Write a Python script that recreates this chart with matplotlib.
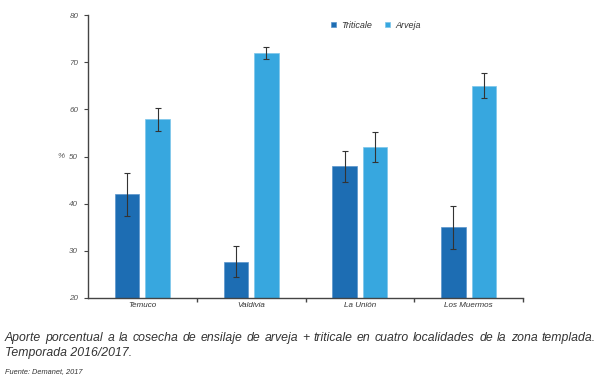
import matplotlib
matplotlib.use("Agg")
import matplotlib.pyplot as plt
import numpy as np

# ── DATA ────────────────────────────────────────────────────────────────────
localidades = ["Temuco", "Valdivia", "La Unión", "Los Muermos"]
triticale = [42.0, 27.7, 47.9, 35.0]
triticale_err = [4.6, 3.3, 3.2, 4.6]
arveja = [57.9, 71.9, 52.0, 65.0]
arveja_err = [2.4, 1.3, 3.1, 2.7]
yticks = [20, 30, 40, 50, 60, 70, 80]

caption_1 = ("Aporte porcentual a la cosecha de ensilaje de arveja + triticale "
             "en cuatro localidades de la zona templada.")
caption_2 = "Temporada 2016/2017."
fuente = "Fuente: Demanet, 2017"

# ── STYLE ───────────────────────────────────────────────────────────────────
plt.rcParams["font.family"] = ["Liberation Sans", "DejaVu Sans"]
C_TRI = "#1d6db3"
C_ARV = "#37a7df"
AX_COL = "#444444"
TXT_COL = "#333333"

fig = plt.figure(figsize=(6, 3.8), dpi=100)
ax = fig.add_axes([0.1467, 0.2158, 0.725, 0.7447])

x = np.arange(len(localidades))
w = 0.225
off = 0.14
err_kw = dict(ecolor="#333333", elinewidth=0.8, capsize=2.5, capthick=0.8)

ax.bar(x - off, np.array(triticale) - 20, w, bottom=20, color=C_TRI,
       edgecolor="#5a95cc", linewidth=0.5, yerr=triticale_err,
       error_kw=err_kw, label="Triticale", zorder=1)
ax.bar(x + off, np.array(arveja) - 20, w, bottom=20, color=C_ARV,
       edgecolor="#7cc6ea", linewidth=0.5, yerr=arveja_err,
       error_kw=err_kw, label="Arveja", zorder=1)

ax.set_xlim(-0.5, len(localidades) - 0.5)
ax.set_ylim(20, 80)
ax.set_yticks(yticks)
ax.set_yticklabels([str(t) for t in yticks], fontsize=5.8, style="italic",
                   color="#555555")
ax.set_xticks(x)
ax.set_xticklabels(localidades, fontsize=5.8, style="italic", color=TXT_COL)
ax.tick_params(axis="x", length=0, pad=3)
ax.set_xticks(np.arange(len(localidades)) + 0.5, minor=True)
ax.tick_params(axis="x", which="minor", length=3, width=1, color=AX_COL,
               direction="out")
ax.tick_params(axis="y", length=3, width=0.8, color=AX_COL, pad=4)
ax.set_ylabel("%", fontsize=5.8, style="italic", color="#555555",
              rotation=0, labelpad=6, va="center")

for s in ["top", "right"]:
    ax.spines[s].set_visible(False)
for s in ["left", "bottom"]:
    ax.spines[s].set_color(AX_COL)
    ax.spines[s].set_linewidth(1.0)
    ax.spines[s].set_zorder(3)

leg = ax.legend(loc="upper left", bbox_to_anchor=(0.545, 0.955),
                bbox_transform=fig.transFigure, ncol=2, frameon=False,
                fontsize=6.5, handlelength=0.6, handleheight=0.6,
                handletextpad=0.6, columnspacing=1.4, borderaxespad=0)
for t in leg.get_texts():
    t.set_style("italic")
    t.set_color(TXT_COL)

# ── CAPTION (first line justified across the width) ─────────────────────────
renderer = fig.canvas.get_renderer()
x0, x1 = 5, 596
words = caption_1.split()
arts = [fig.text(0, 1 - 341 / 380, wd, fontsize=8.8, style="italic",
                 color=TXT_COL, va="baseline", ha="left") for wd in words]
widths = [a.get_window_extent(renderer).width for a in arts]
gap = (x1 - x0 - sum(widths)) / (len(words) - 1)
pos = x0
for a, wd in zip(arts, widths):
    a.set_x(pos / 600)
    pos += wd + gap

fig.text(x0 / 600, 1 - 356 / 380, caption_2, fontsize=8.8, style="italic",
         color=TXT_COL, va="baseline", ha="left")
fig.text(x0 / 600, 1 - 373 / 380, fuente, fontsize=5.3, style="italic",
         color=TXT_COL, va="baseline", ha="left")

fig.savefig("out.png", dpi=100)
